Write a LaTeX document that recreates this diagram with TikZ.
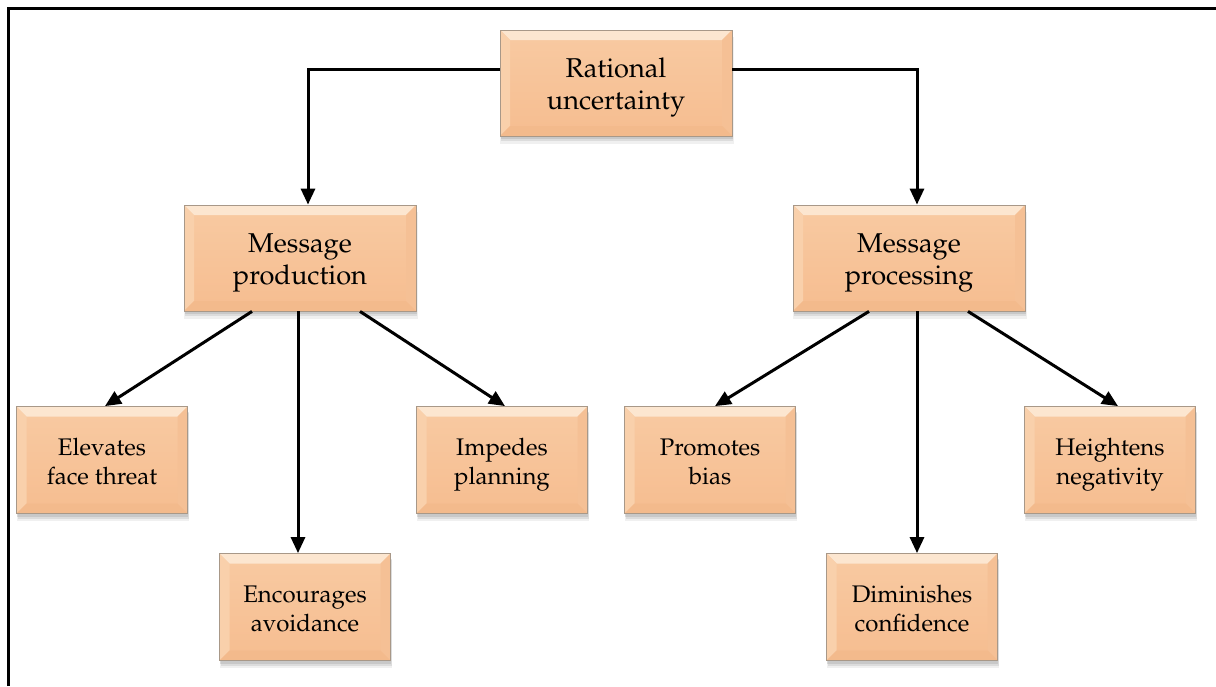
\documentclass[tikz,border=0pt]{standalone}
\usepackage[T1]{fontenc}
\renewcommand\rmdefault{ppl}
\usetikzlibrary{arrows.meta,shadows}

\definecolor{facetop}{HTML}{F8CAA2}
\definecolor{facebot}{HTML}{F6BD90}
\definecolor{bevtop}{HTML}{FCE6D0}
\definecolor{bevleft}{HTML}{F9D0AB}
\definecolor{bevright}{HTML}{F5C095}
\definecolor{bevbot}{HTML}{F3BA8C}
\definecolor{boxline}{HTML}{A89888}

% two-line box label, set slightly below the box centre
\newcommand\boxtext[1]{\raisebox{-2pt}[\height][\depth]{\begin{tabular}{@{}c@{}}#1\end{tabular}}}

\tikzset{
  bevel/.style={
    rectangle, draw=boxline, line width=0.4pt,
    top color=facetop, bottom color=facebot,
    align=center, inner sep=0pt,
    drop shadow={opacity=0.12, shadow xshift=0.5pt, shadow yshift=-3.5pt, shadow scale=1.01},
    drop shadow={opacity=0.18, shadow xshift=0.5pt, shadow yshift=-2.5pt},
    drop shadow={opacity=0.22, shadow xshift=0.3pt, shadow yshift=-1.5pt},
    path picture={
      \def\bw{5pt}
      \coordinate (nw) at (path picture bounding box.north west);
      \coordinate (ne) at (path picture bounding box.north east);
      \coordinate (sw) at (path picture bounding box.south west);
      \coordinate (se) at (path picture bounding box.south east);
      \fill[bevtop] (nw) -- (ne) -- ([xshift=-\bw,yshift=-\bw]ne) -- ([xshift=\bw,yshift=-\bw]nw) -- cycle;
      \fill[bevleft] (nw) -- ([xshift=\bw,yshift=-\bw]nw) -- ([xshift=\bw,yshift=\bw]sw) -- (sw) -- cycle;
      \fill[bevright] (ne) -- ([xshift=-\bw,yshift=-\bw]ne) -- ([xshift=-\bw,yshift=\bw]se) -- (se) -- cycle;
      \fill[bevbot] (sw) -- ([xshift=\bw,yshift=\bw]sw) -- ([xshift=-\bw,yshift=\bw]se) -- (se) -- cycle;
    }
  },
  mainbox/.style={bevel, minimum width=116pt, minimum height=53pt,
    font=\fontsize{13.6}{16}\selectfont},
  leafbox/.style={bevel, minimum width=85.5pt, minimum height=53.5pt,
    font=\fontsize{12}{14.5}\selectfont},
  link/.style={line width=1.5pt, -{Triangle[length=8pt,width=7pt]}},
  frame/.style={line width=1.5pt}
}

\begin{document}
\begin{tikzpicture}[x=0.5pt,y=-0.5pt]
\useasboundingbox (0,0) rectangle (1216,686);

% outer frame (top and left edges)
\draw[frame] (8,686) -- (8,8) -- (1216,8);

% boxes
\node[mainbox] (ru) at (616,83)  {\boxtext{Rational\\uncertainty}};
\node[mainbox] (mp) at (300,258) {\boxtext{Message\\production}};
\node[mainbox] (mq) at (909,258) {\boxtext{Message\\processing}};

\node[leafbox] (ef) at (102,460)  {\boxtext{Elevates\\face threat}};
\node[leafbox] (ea) at (305,607)  {\boxtext{Encourages\\avoidance}};
\node[leafbox] (ip) at (502,460)  {\boxtext{Impedes\\planning}};
\node[leafbox] (pb) at (710,460)  {\boxtext{Promotes\\bias}};
\node[leafbox] (dc) at (912,607)  {\boxtext{Diminishes\\confidence}};
\node[leafbox] (hn) at (1110,460) {\boxtext{Heightens\\negativity}};

% top level branches
\draw[link] ([yshift=7pt]ru.west) -| ([xshift=4pt]mp.north);
\draw[link] ([yshift=7pt]ru.east) -| ([xshift=4pt]mq.north);

% production branches
\draw[link] ([xshift=-24pt]mp.south) -- ([xshift=1.5pt]ef.north);
\draw[link] ([xshift=-1pt]mp.south) -- ([xshift=-1pt]mp.south |- ea.north);
\draw[link] ([xshift=30pt]mp.south) -- ([xshift=1.5pt]ip.north);

% processing branches
\draw[link] ([xshift=-20pt]mq.south) -- ([xshift=2.5pt]pb.north);
\draw[link] ([xshift=4pt]mq.south) -- ([xshift=4pt]mq.south |- dc.north);
\draw[link] ([xshift=29.5pt]mq.south) -- ([xshift=4pt]hn.north);
\end{tikzpicture}
\end{document}
